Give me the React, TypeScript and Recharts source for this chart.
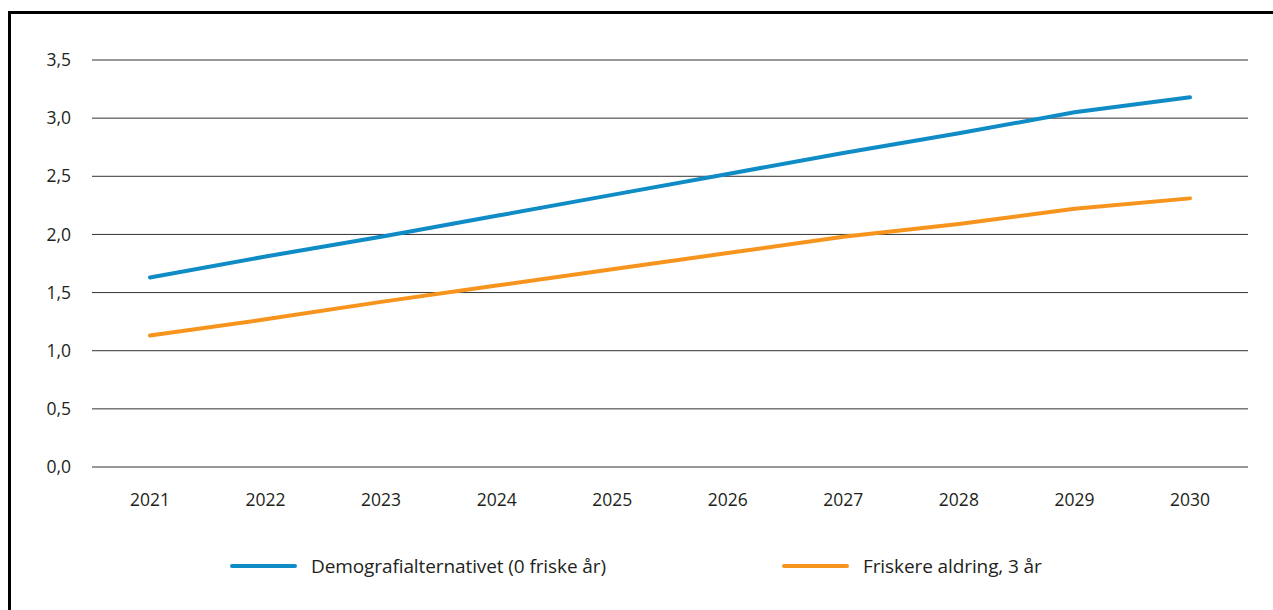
import { LineChart, Line, XAxis, YAxis, CartesianGrid, Legend } from 'recharts';

const years = ['2021', '2022', '2023', '2024', '2025', '2026', '2027', '2028', '2029', '2030'];
const demografi = [1.63, 1.81, 1.98, 2.16, 2.34, 2.52, 2.7, 2.87, 3.05, 3.18];
const friskere = [1.13, 1.27, 1.42, 1.56, 1.7, 1.84, 1.98, 2.09, 2.22, 2.31];
const yTicks = [0, 0.5, 1, 1.5, 2, 2.5, 3, 3.5];

const BLUE = '#0f8cc5';
const ORANGE = '#f7941d';
const TEXT = '#231f20';
const FONT = '"Open Sans", sans-serif';

const data = years.map((year, i) => ({
  year,
  demografi: demografi[i],
  friskere: friskere[i],
}));

function LegendContent() {
  const item = (color: string, label: string, width?: number) => (
    <div style={{ display: 'flex', alignItems: 'center', width }}>
      <div style={{ width: 67, height: 4, borderRadius: 2, background: color, marginRight: 14 }} />
      <span style={{ fontFamily: FONT, fontSize: 19, color: TEXT, letterSpacing: -0.1 }}>{label}</span>
    </div>
  );
  return (
    <div style={{ display: 'flex', alignItems: 'center', height: 30, paddingLeft: 219 }}>
      {item(BLUE, 'Demografialternativet (0 friske år)', 552)}
      {item(ORANGE, 'Friskere aldring, 3 år')}
    </div>
  );
}

export default function App() {
  return (
    <div
      style={{
        position: 'absolute',
        left: 8,
        top: 11,
        width: 1262,
        height: 596,
        borderTop: '3px solid #000',
        borderLeft: '3px solid #000',
        background: '#fff',
        overflow: 'hidden',
      }}
    >
      <LineChart width={1262} height={596} data={data} margin={{ top: 46, right: 25, bottom: 29, left: 0 }}>
        <CartesianGrid vertical={false} stroke="#333" strokeWidth={1} />
        <XAxis
          dataKey="year"
          axisLine={false}
          tickLine={false}
          tickMargin={21}
          height={84}
          padding={{ left: 58, right: 58 }}
          tick={{ fill: TEXT, fontSize: 17.5, fontFamily: FONT }}
        />
        <YAxis
          domain={[0, 3.5]}
          ticks={yTicks}
          axisLine={false}
          tickLine={false}
          tickMargin={15}
          width={81}
          tickFormatter={(v: number) => v.toFixed(1).replace('.', ',')}
          tick={{ fill: TEXT, fontSize: 17.5, fontFamily: FONT }}
        />
        <Legend
          verticalAlign="bottom"
          content={() => <LegendContent />}
          wrapperStyle={{ left: 0, width: 1262, height: 30 }}
        />
        <Line
          dataKey="demografi"
          name="Demografialternativet (0 friske år)"
          stroke={BLUE}
          strokeWidth={4}
          strokeLinecap="round"
          dot={false}
          isAnimationActive={false}
        />
        <Line
          dataKey="friskere"
          name="Friskere aldring, 3 år"
          stroke={ORANGE}
          strokeWidth={4}
          strokeLinecap="round"
          dot={false}
          isAnimationActive={false}
        />
      </LineChart>
    </div>
  );
}
